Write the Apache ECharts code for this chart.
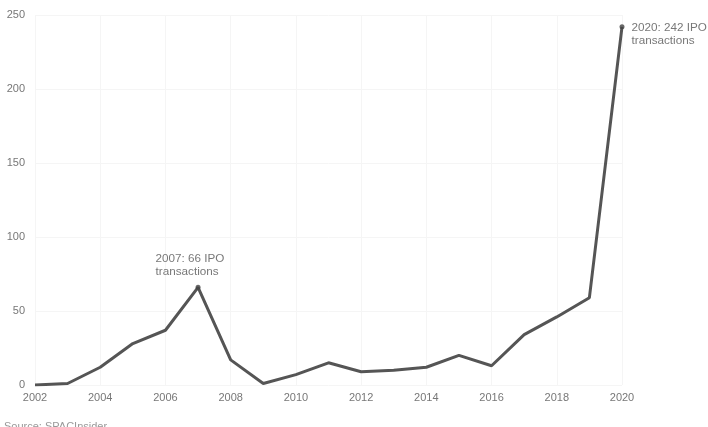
<!DOCTYPE html>
<html><head><meta charset="utf-8">
<script src="https://cdn.jsdelivr.net/npm/echarts@6/dist/echarts.min.js"></script>
<style>html,body{margin:0;padding:0;background:#fff}#c{width:708px;height:427px}</style>
</head><body><div id="c"></div>
<script>
const years = [2002,2003,2004,2005,2006,2007,2008,2009,2010,2011,2012,2013,2014,2015,2016,2017,2018,2019,2020];
const ipoCounts = [0,1,12,28,37,66,17,1,7,15,9,10,12,20,13,34,46,59,242];
const highlightYears = [2007, 2020];
const highlightLabels = ["2007: 66 IPO\ntransactions", "2020: 242 IPO\ntransactions"];
const sourceText = "Source: SPACInsider";

const lineData = years.map((y,i)=>[y, ipoCounts[i]]);
const labelOffsets = [[-40,-33],[12,-3]];
const pointData = highlightYears.map((y,i)=>({
  value:[y, ipoCounts[years.indexOf(y)]],
  label:{show:true, formatter:highlightLabels[i], position:labelOffsets[i], align:'left', verticalAlign:'top'}
}));

const chart = echarts.init(document.getElementById('c'));
chart.setOption({
  animation:false,
  grid:{left:35, right:86, top:15, bottom:42},
  xAxis:{type:'value', min:2002, max:2020, interval:2,
    axisLine:{show:false}, axisTick:{show:false},
    axisLabel:{formatter:v=>String(v), color:'#777', fontFamily:'Liberation Sans', fontSize:11, margin:7},
    splitLine:{show:true, lineStyle:{color:'#f5f5f5', width:1}}},
  yAxis:{type:'value', min:0, max:250, interval:50,
    axisLine:{show:false}, axisTick:{show:false},
    axisLabel:{color:'#777', fontFamily:'Liberation Sans', fontSize:11, margin:10},
    splitLine:{show:true, lineStyle:{color:'#f5f5f5', width:1}}},
  series:[
    {type:'line', data:lineData, symbol:'none', lineStyle:{color:'#555', width:3}, z:2},
    {type:'scatter', data:pointData, symbol:'circle', symbolSize:5, itemStyle:{color:'#444'}, z:3,
      label:{color:'#555', fontFamily:'Liberation Sans', fontSize:11.7, lineHeight:13}}
  ],
  graphic:[{type:'text', left:4, top:421, style:{text:sourceText, fill:'#999', font:'11px "Liberation Sans"'}}]
});
</script></body></html>
